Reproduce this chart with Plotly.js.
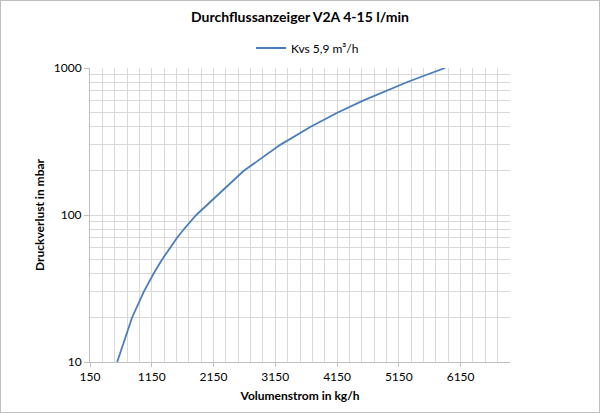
<!DOCTYPE html>
<html>
<head>
<meta charset="utf-8">
<script src="https://cdn.plot.ly/plotly-3.0.1.min.js"></script>
<style>
html,body{margin:0;padding:0;background:#fff;}
#wrap{position:relative;width:600px;height:413px;}
#chart{position:absolute;left:0;top:0;width:600px;height:413px;}
#frame{position:absolute;left:0;top:0;width:600px;height:413px;box-sizing:border-box;border:1px solid #bfbfbf;pointer-events:none;}
</style>
</head>
<body>
<div id="wrap"><div id="chart"></div><div id="frame"></div></div>
<script>
// Volumenstrom in kg/h
const flowKgH = [590, 830, 1020, 1180, 1320, 1450, 1560, 1670, 1770, 1870, 2640, 3230, 3730, 4170, 4570, 4940, 5280, 5600, 5900];
// Druckverlust in mbar
const pressureMbar = [10, 20, 30, 40, 50, 60, 70, 80, 90, 100, 200, 300, 400, 500, 600, 700, 800, 900, 1000];
const seriesName = 'Kvs 5,9 m³/h';
const xTickVals = [150, 1150, 2150, 3150, 4150, 5150, 6150];
const yTickVals = [10, 100, 1000];
const yMinorVals = [20, 30, 40, 50, 60, 70, 80, 90, 200, 300, 400, 500, 600, 700, 800, 900];

const fontFam = 'Lato, "Liberation Sans", sans-serif';
const trace = {
  x: flowKgH, y: pressureMbar, name: seriesName,
  type: 'scatter', mode: 'lines',
  line: {color: '#4a7ebb', width: 1.8}
};
const layout = {
  width: 600, height: 413,
  margin: {l: 90, r: 90, t: 68, b: 51},
  paper_bgcolor: '#fff', plot_bgcolor: '#fff',
  font: {family: fontFam, size: 12, color: '#000'},
  title: {text: '<b>Durchflussanzeiger V2A 4-15 l/min</b>', x: 0.5, xanchor: 'center', y: 0.958, yanchor: 'middle', font: {size: 14, family: fontFam}},
  showlegend: true,
  legend: {orientation: 'h', x: 0.518, xanchor: 'center', y: 1.068, yanchor: 'middle', font: {size: 12}, itemwidth: 30},
  xaxis: {
    range: [150, 6950], tickvals: xTickVals, ticktext: xTickVals.map(String),
    showline: true, linecolor: '#bfbfbf', linewidth: 1,
    ticks: 'outside', ticklen: 4, tickcolor: '#bfbfbf',
    showgrid: true, gridcolor: '#d9d9d9', gridwidth: 1, zeroline: false,
    minor: {dtick: 200, tick0: 150, showgrid: true, gridcolor: '#d9d9d9', ticks: ''},
    tickfont: {size: 12},
    title: {text: '<b>Volumenstrom in kg/h</b>', font: {size: 12}, standoff: 8}
  },
  yaxis: {
    type: 'log', range: [1, 3], tickvals: yTickVals, ticktext: yTickVals.map(String),
    showline: true, linecolor: '#bfbfbf', linewidth: 1,
    ticks: 'outside', ticklen: 5, tickcolor: '#bfbfbf',
    showgrid: true, gridcolor: '#d9d9d9', gridwidth: 1, zeroline: false,
    minor: {tickvals: yMinorVals, showgrid: true, gridcolor: '#d9d9d9', ticks: ''},
    tickfont: {size: 12},
    title: {text: '<b>Druckverlust in mbar</b>', font: {size: 12}, standoff: 6}
  }
};
Plotly.newPlot('chart', [trace], layout, {displayModeBar: false, staticPlot: true});
</script>
</body>
</html>
